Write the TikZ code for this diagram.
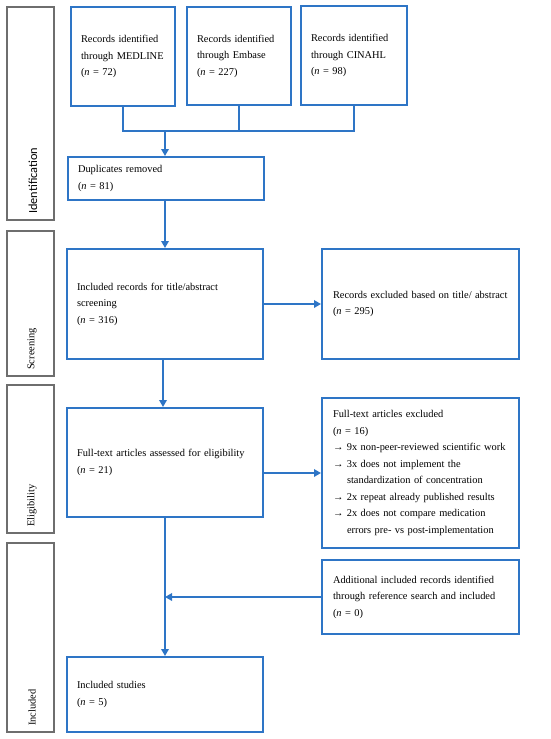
\documentclass[tikz,border=0pt]{standalone}
\usepackage{fontspec}
\setmainfont{Liberation Serif}
\newfontfamily\calfont{Carlito}
\usetikzlibrary{arrows.meta}
\definecolor{myblue}{RGB}{46,117,198}
\definecolor{mygray}{RGB}{110,110,110}
\begin{document}
\begin{tikzpicture}[x=1pt,y=-1pt,
  every node/.style={font=\fontsize{10.4}{16.5}\selectfont},
  bbox/.style={draw=myblue, line width=2pt, inner xsep=10pt, inner ysep=0pt, align=left, anchor=center},
  sidebox/.style={draw=mygray, line width=1.4pt, minimum width=47pt, inner sep=0pt},
  sidelabel/.style={rotate=90, anchor=west, inner sep=0pt},
  conn/.style={draw=myblue, line width=2pt},
  arr/.style={conn, -{Triangle[length=7pt,width=7.5pt]}}]
\useasboundingbox (0,0) rectangle (550,739);
% side boxes
\node[sidebox, minimum height=213pt] (sid) at (30.5,113.5) {};
\node[sidebox, minimum height=145pt] (sscr) at (30.5,303.5) {};
\node[sidebox, minimum height=148pt] (selig) at (30.5,459) {};
\node[sidebox, minimum height=189pt] (sinc) at (30.5,637.5) {};
\node[sidelabel, font=\calfont\fontsize{12.3}{14}\selectfont] (lid) at (33,214) {Identification};
\node[sidelabel] (lscr) at (32,370) {Screening};
\node[sidelabel] (lelig) at (32,527) {Eligibility};
\node[sidelabel] (linc) at (32,726) {Included};
% top boxes
\node[bbox, text width=84pt, minimum height=99pt] (med) at (123,56.5) {Records identified\\through MEDLINE\\(\textit{n} = 72)};
\node[bbox, text width=84pt, minimum height=98pt] (emb) at (239,56) {Records identified\\through Embase\\(\textit{n} = 227)};
\node[bbox, text width=86pt, minimum height=99pt] (cin) at (354,55.5) {Records identified\\through CINAHL\\(\textit{n} = 98)};
\node[bbox, text width=176pt, minimum height=43pt] (dup) at (166,178.5) {Duplicates removed\\(\textit{n} = 81)};
\node[bbox, text width=176pt, minimum height=110pt] (incl) at (165,304) {Included records for title/abstract\\screening\\(\textit{n} = 316)};
\node[bbox, inner xsep=11pt, text width=175pt, minimum height=110pt] (excl) at (420.5,304) {Records excluded based on title/ abstract\\(\textit{n} = 295)};
\node[bbox, text width=176pt, minimum height=109pt] (ft) at (165,462.5) {Full-text articles assessed for eligibility\\(\textit{n} = 21)};
\node[bbox, inner xsep=11pt, text width=175pt, minimum height=150pt] (ftex) at (420.5,473) {Full-text articles excluded\\(\textit{n} = 16)\\→ 9x non-peer-reviewed scientific work\\→ 3x does not implement the\\\hspace*{14pt}standardization of concentration\\→ 2x repeat already published results\\→ 2x does not compare medication\\\hspace*{14pt}errors pre- vs post-implementation};
\node[bbox, inner xsep=11pt, text width=175pt, minimum height=74pt] (add) at (420.5,597) {Additional included records identified\\through reference search and included\\(\textit{n} = 0)};
\node[bbox, text width=176pt, minimum height=75pt] (stud) at (165,694.5) {Included studies\\(\textit{n} = 5)};
% connectors
\coordinate (j) at (165,131);
\draw[conn] (med.south) |- (j) -| (cin.south);
\draw[conn] (emb.south) -- (emb.south |- j);
\draw[arr] (j) -- (j |- dup.north);
\draw[arr] (dup.south -| j) -- (j |- incl.north);
\draw[arr] (incl.east |- excl.west) -- (excl.west);
\draw[arr] ([xshift=-2pt]incl.south) -- ([xshift=-2pt]incl.south |- ft.north);
\draw[arr] (ftex.west -| ft.east) -- (ftex.west);
\draw[arr] (ft.south) -- (stud.north);
\draw[arr] (add.west) -- (add.west -| ft.south);
\end{tikzpicture}
\end{document}
